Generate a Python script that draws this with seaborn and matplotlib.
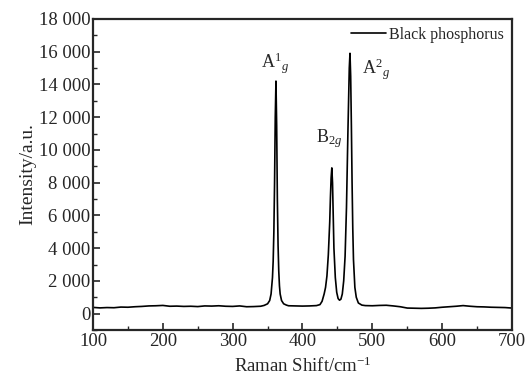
import numpy as np
import pandas as pd
import matplotlib
matplotlib.use("Agg")
import matplotlib.pyplot as plt
import seaborn as sns
from matplotlib.ticker import MultipleLocator, FuncFormatter

# ======================================
# DATA
# ======================================
raman_shift = [
    100, 110, 120, 130, 140, 150, 160, 170, 180, 190, 200, 210, 220, 230, 240,
    250, 260, 270, 280, 290, 300, 310, 320, 330, 340, 345, 350, 353, 355, 357,
    358, 359, 360, 361, 362, 363, 364, 365, 366, 367, 368, 370, 373, 377, 380,
    390, 400, 410, 420, 425, 428, 431, 433, 435, 437, 439, 440, 441, 442, 443,
    444, 445, 447, 449, 451, 453, 455, 457, 459, 461, 463, 465, 467, 468, 469,
    470, 471, 472, 473, 475, 477, 480, 485, 490, 500, 510, 520, 530, 540, 550,
    560, 570, 580, 590, 600, 610, 620, 630, 640, 650, 660, 670, 680, 690, 700,
]
intensity = [
    380, 350, 370, 360, 400, 390, 420, 440, 470, 480, 500, 450, 460, 440, 450,
    430, 470, 460, 480, 450, 440, 470, 420, 430, 450, 500, 600, 800, 1200, 2200,
    3200, 5000, 8000, 12000, 14200, 11500, 7000, 4200, 2600, 1700, 1200, 800, 600, 520, 480,
    470, 460, 470, 490, 550, 750, 1200, 1600, 2300, 3600, 5600, 7100, 8300, 8900, 8000,
    6000, 4000, 2200, 1300, 920, 820, 880, 1200, 2000, 3500, 6500, 11000, 15000, 15900, 14500,
    11500, 8000, 5200, 3300, 1600, 1000, 650, 520, 490, 480, 500, 510, 470, 420, 340,
    330, 320, 330, 350, 390, 420, 450, 490, 450, 420, 410, 390, 380, 370, 340,
]

peak_labels = [r"A$^{1}{}_{\mathit{g}}$", r"B$_{2\mathit{g}}$", r"A$^{2}{}_{\mathit{g}}$"]
peak_label_x = [341, 419, 485]
peak_label_y = [15300, 10700, 14900]

x_ticks = [100, 200, 300, 400, 500, 600, 700]
y_ticks = [0, 2000, 4000, 6000, 8000, 10000, 12000, 14000, 16000, 18000]

df = pd.DataFrame({"shift": raman_shift, "intensity": intensity})

# ======================================
# STYLE
# ======================================
sns.set_style("ticks")
plt.rcParams["font.family"] = ["Liberation Serif", "DejaVu Serif"]
plt.rcParams["mathtext.fontset"] = "custom"
plt.rcParams["mathtext.rm"] = "Liberation Serif"
plt.rcParams["mathtext.it"] = "Liberation Serif:italic"
plt.rcParams["mathtext.default"] = "rm"

fig = plt.figure(figsize=(5.30, 3.78), dpi=100)
ax = fig.add_axes([0.1755, 0.127, 0.7905, 0.823])

sns.lineplot(data=df, x="shift", y="intensity", ax=ax, color="black",
             linewidth=1.2, label="Black phosphorus", legend=False)

for txt, px, py in zip(peak_labels, peak_label_x, peak_label_y):
    ax.text(px, py, txt, fontsize=13, ha="left", va="center")

ax.set_xlim(100, 700)
ax.set_ylim(-1000, 18000)
ax.set_xticks(x_ticks)
ax.set_yticks(y_ticks)
ax.xaxis.set_minor_locator(MultipleLocator(50))
ax.yaxis.set_minor_locator(MultipleLocator(1000))
ax.yaxis.set_major_formatter(FuncFormatter(lambda v, p: f"{int(v):,}".replace(",", " ")))

ax.tick_params(which="major", direction="in", length=5, width=1.2, labelsize=13.5,
               top=False, right=False, pad=2)
ax.tick_params(which="minor", direction="in", length=3, width=1.0,
               top=False, right=False)
for sp in ax.spines.values():
    sp.set_linewidth(1.6)
    sp.set_visible(True)

ax.set_xlabel("Raman Shift/cm$^{-1}$", fontsize=13.5, labelpad=5)
ax.set_ylabel("Intensity/a.u.", fontsize=14, labelpad=2)

ax.legend(loc="upper right", frameon=False, fontsize=11.5, handlelength=2.2,
          handletextpad=0.2, borderaxespad=0.1)

fig.savefig("out.png", dpi=100)
plt.close(fig)
